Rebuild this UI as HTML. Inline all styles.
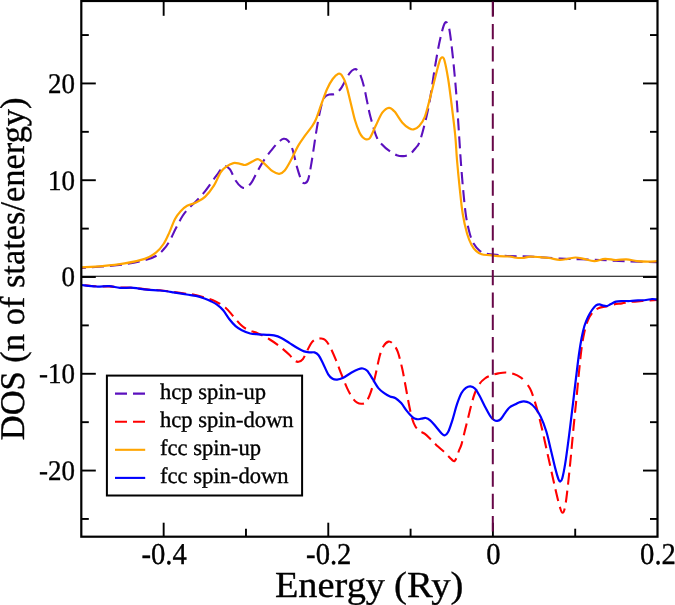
<!DOCTYPE html>
<html><head><meta charset="utf-8"><title>DOS</title>
<style>html,body{margin:0;padding:0;background:#fff;overflow:hidden}svg{display:block;will-change:transform;opacity:.999}text{text-rendering:geometricPrecision}</style></head>
<body>
<svg width="675" height="605" viewBox="0 0 675 605">
<rect width="675" height="605" fill="#fff"/>
<defs><clipPath id="c"><rect x="81.3" y="1.0" width="576.2" height="535.7"/></clipPath></defs>
<g clip-path="url(#c)" fill="none" stroke-linejoin="round">
<path d="M81.50 268.00 C84.97 267.75 95.12 267.12 102.30 266.50 C109.48 265.88 117.53 265.33 124.60 264.30 C131.67 263.27 139.48 261.68 144.70 260.30 C149.92 258.92 152.73 257.83 155.90 256.00 C159.07 254.17 161.47 251.72 163.70 249.30 C165.93 246.88 167.25 245.03 169.30 241.50 C171.35 237.97 173.77 232.38 176.00 228.10 C178.23 223.82 180.47 219.22 182.70 215.80 C184.93 212.38 187.17 210.02 189.40 207.60 C191.63 205.18 193.50 204.02 196.10 201.30 C198.70 198.58 202.03 195.02 205.00 191.30 C207.97 187.58 211.73 181.97 213.90 179.00 C216.07 176.03 216.65 175.33 218.00 173.50 C219.35 171.67 220.75 169.22 222.00 168.00 C223.25 166.78 224.17 165.97 225.50 166.20 C226.83 166.43 228.32 167.02 230.00 169.40 C231.68 171.78 233.73 177.60 235.60 180.50 C237.47 183.40 239.52 185.60 241.20 186.80 C242.88 188.00 244.02 188.37 245.70 187.70 C247.38 187.03 249.22 185.67 251.25 182.80 C253.28 179.93 255.67 174.42 257.90 170.50 C260.12 166.58 262.37 162.65 264.60 159.30 C266.83 155.95 269.07 153.18 271.30 150.40 C273.53 147.62 275.95 144.53 278.00 142.60 C280.05 140.67 281.92 139.10 283.60 138.80 C285.28 138.50 286.62 139.05 288.10 140.80 C289.58 142.55 291.02 144.92 292.50 149.30 C293.98 153.68 295.50 161.90 297.00 167.10 C298.50 172.30 300.20 177.82 301.50 180.50 C302.80 183.18 303.68 183.38 304.80 183.20 C305.92 183.02 307.08 182.82 308.20 179.40 C309.32 175.98 310.38 169.20 311.50 162.70 C312.62 156.20 313.78 147.47 314.90 140.40 C316.02 133.33 317.08 126.27 318.20 120.30 C319.32 114.33 320.48 108.52 321.60 104.60 C322.72 100.68 323.60 98.47 324.90 96.80 C326.20 95.13 327.72 95.08 329.40 94.60 C331.08 94.12 333.15 94.83 335.00 93.90 C336.85 92.97 338.83 91.12 340.50 89.00 C342.17 86.88 343.50 83.80 345.00 81.20 C346.50 78.60 348.02 75.37 349.50 73.40 C350.98 71.43 352.60 69.97 353.90 69.40 C355.20 68.83 356.18 68.97 357.30 70.00 C358.42 71.03 359.48 72.80 360.60 75.60 C361.72 78.40 362.88 82.33 364.00 86.80 C365.12 91.27 366.22 97.37 367.30 102.40 C368.38 107.43 368.93 111.20 370.50 117.00 C372.07 122.80 374.73 132.58 376.70 137.20 C378.67 141.82 380.25 142.45 382.30 144.70 C384.35 146.95 386.58 148.95 389.00 150.70 C391.42 152.45 394.38 154.30 396.80 155.20 C399.22 156.10 401.27 156.33 403.50 156.10 C405.73 155.87 408.15 155.18 410.20 153.80 C412.25 152.42 414.30 149.63 415.80 147.80 C417.30 145.97 417.90 146.05 419.20 142.80 C420.50 139.55 421.93 134.81 423.60 128.30 C425.27 121.79 427.33 113.80 429.20 103.75 C431.07 93.70 433.13 78.04 434.80 68.00 C436.47 57.96 437.72 50.57 439.20 43.50 C440.68 36.43 442.47 29.13 443.70 25.60 C444.93 22.07 445.67 21.73 446.60 22.30 C447.53 22.87 448.30 23.62 449.30 29.00 C450.30 34.38 451.48 44.37 452.60 54.60 C453.72 64.83 455.07 79.23 456.00 90.40 C456.93 101.57 457.60 112.83 458.20 121.60 C458.80 130.37 459.15 136.22 459.60 143.00 C460.05 149.78 460.32 154.62 460.90 162.30 C461.48 169.98 462.25 180.17 463.10 189.10 C463.95 198.03 464.88 208.46 466.00 215.90 C467.12 223.34 468.50 229.10 469.80 233.75 C471.10 238.40 472.20 241.01 473.80 243.80 C475.40 246.59 477.53 248.90 479.40 250.50 C481.27 252.10 482.58 252.73 485.00 253.40 C487.42 254.07 489.73 254.05 493.90 254.50 C498.07 254.95 503.98 255.77 510.00 256.10 C516.02 256.43 521.67 256.10 530.00 256.50 C538.33 256.90 548.33 257.92 560.00 258.50 C571.67 259.08 588.33 259.50 600.00 260.00 C611.67 260.50 620.50 261.13 630.00 261.50 C639.50 261.87 652.50 262.08 657.00 262.20" stroke="#5B10BE" stroke-width="2.1" stroke-dasharray="12 6" stroke-dashoffset="-10.5"/>
<path d="M81.50 285.00 C83.92 285.22 91.37 286.07 96.00 286.30 C100.63 286.53 105.30 286.20 109.30 286.40 C113.30 286.60 116.00 287.27 120.00 287.50 C124.00 287.73 128.85 287.48 133.30 287.80 C137.75 288.12 142.25 288.98 146.70 289.40 C151.15 289.82 155.57 289.87 160.00 290.30 C164.43 290.73 168.85 291.42 173.30 292.00 C177.75 292.58 183.58 293.43 186.70 293.80 C189.82 294.17 188.90 293.55 192.00 294.20 C195.10 294.85 201.30 296.45 205.30 297.70 C209.30 298.95 212.67 300.07 216.00 301.70 C219.33 303.33 222.42 305.07 225.30 307.50 C228.18 309.93 230.68 313.38 233.30 316.30 C235.92 319.22 238.63 322.78 241.00 325.00 C243.37 327.22 244.68 328.20 247.50 329.60 C250.32 331.00 254.32 331.83 257.90 333.40 C261.48 334.97 265.28 336.77 269.00 339.00 C272.72 341.23 276.85 344.20 280.20 346.80 C283.55 349.40 286.77 352.37 289.10 354.60 C291.43 356.83 292.63 359.00 294.20 360.20 C295.77 361.40 297.05 361.98 298.50 361.80 C299.95 361.62 301.42 361.03 302.90 359.10 C304.38 357.17 305.92 352.98 307.40 350.20 C308.88 347.42 310.33 344.27 311.80 342.40 C313.27 340.53 314.72 339.65 316.20 339.00 C317.68 338.35 319.20 338.33 320.70 338.50 C322.20 338.67 323.65 338.62 325.20 340.00 C326.75 341.38 328.20 343.43 330.00 346.80 C331.80 350.17 334.07 355.55 336.00 360.20 C337.93 364.85 339.75 370.05 341.60 374.70 C343.45 379.35 345.25 384.18 347.10 388.10 C348.95 392.02 351.02 395.78 352.70 398.20 C354.38 400.62 355.70 401.68 357.20 402.60 C358.70 403.53 360.22 403.85 361.70 403.75 C363.18 403.65 364.62 403.86 366.10 402.00 C367.58 400.14 369.12 396.77 370.60 392.60 C372.08 388.43 373.48 383.10 375.00 377.00 C376.52 370.90 378.27 361.17 379.70 356.00 C381.13 350.83 382.13 348.40 383.60 346.00 C385.07 343.60 386.93 341.93 388.50 341.60 C390.07 341.27 391.47 342.32 393.00 344.00 C394.53 345.68 396.17 347.62 397.70 351.70 C399.23 355.78 400.88 362.73 402.20 368.50 C403.52 374.27 404.48 380.35 405.60 386.30 C406.72 392.25 407.80 398.80 408.90 404.20 C410.00 409.60 411.12 414.98 412.20 418.70 C413.28 422.42 414.17 424.45 415.40 426.50 C416.63 428.55 418.07 429.80 419.60 431.00 C421.13 432.20 422.65 432.22 424.60 433.70 C426.55 435.18 429.07 437.75 431.30 439.90 C433.53 442.05 435.77 444.52 438.00 446.60 C440.23 448.68 442.65 450.47 444.70 452.40 C446.75 454.33 448.95 456.83 450.30 458.20 C451.65 459.57 452.13 460.10 452.80 460.60 C453.47 461.10 453.82 461.37 454.30 461.20 C454.78 461.03 455.22 460.50 455.70 459.60 C456.18 458.70 456.65 457.32 457.20 455.80 C457.75 454.28 458.28 452.40 459.00 450.50 C459.72 448.60 460.53 447.65 461.50 444.40 C462.47 441.15 463.68 435.47 464.80 431.00 C465.92 426.53 467.08 422.07 468.20 417.60 C469.32 413.13 470.38 408.30 471.50 404.20 C472.62 400.10 473.60 396.35 474.90 393.00 C476.20 389.65 477.63 386.52 479.30 384.10 C480.97 381.68 482.85 379.98 484.90 378.50 C486.95 377.02 489.37 376.05 491.60 375.20 C493.83 374.35 495.88 373.85 498.30 373.40 C500.72 372.95 503.50 372.38 506.10 372.50 C508.70 372.62 511.48 373.28 513.90 374.10 C516.32 374.92 518.92 376.32 520.60 377.40 C522.28 378.48 523.07 379.67 524.00 380.60" stroke="#FF0000" stroke-width="2.1" stroke-dasharray="12 6" stroke-dashoffset="-3"/>
<path d="M524.00 380.60 C524.93 381.53 525.20 381.67 526.20 383.00 C527.20 384.33 528.88 386.50 530.00 388.60 C531.12 390.70 531.68 392.02 532.90 395.60 C534.12 399.18 535.82 404.72 537.30 410.10 C538.78 415.48 540.31 421.58 541.80 427.90 C543.29 434.22 544.77 441.30 546.25 448.00 C547.73 454.70 549.21 461.40 550.70 468.10 C552.19 474.80 553.72 481.87 555.20 488.20 C556.68 494.53 558.38 502.00 559.60 506.10 C560.82 510.20 561.57 512.80 562.50 512.80 C563.43 512.80 564.27 510.94 565.20 506.10 C566.13 501.26 567.17 491.93 568.10 483.75 C569.03 475.57 569.90 466.31 570.80 457.00 C571.70 447.69 572.57 437.58 573.50 427.90 C574.43 418.22 575.48 408.22 576.40 398.90 C577.32 389.58 578.13 380.48 579.00 372.00 C579.87 363.52 580.70 354.67 581.60 348.00 C582.50 341.33 583.33 336.67 584.40 332.00 C585.47 327.33 586.57 323.33 588.00 320.00 C589.43 316.67 591.17 314.00 593.00 312.00 C594.83 310.00 596.83 308.93 599.00 308.00 C601.17 307.07 603.50 307.00 606.00 306.40 C608.50 305.80 611.33 304.90 614.00 304.40 C616.67 303.90 619.33 303.80 622.00 303.40 C624.67 303.00 626.67 302.40 630.00 302.00 C633.33 301.60 637.50 301.33 642.00 301.00 C646.50 300.67 654.50 300.17 657.00 300.00" stroke="#FF0000" stroke-width="2.1" stroke-dasharray="12 6" stroke-dashoffset="12"/>
<path d="M81.50 267.30 C84.97 267.10 95.12 266.75 102.30 266.10 C109.48 265.45 117.53 264.60 124.60 263.40 C131.67 262.20 139.48 260.68 144.70 258.90 C149.92 257.12 152.73 255.22 155.90 252.70 C159.07 250.17 161.47 247.10 163.70 243.75 C165.93 240.40 167.43 236.69 169.30 232.60 C171.17 228.51 173.05 222.73 174.90 219.20 C176.75 215.67 178.37 213.63 180.40 211.40 C182.43 209.17 184.48 207.28 187.10 205.80 C189.72 204.32 193.12 203.98 196.10 202.50 C199.08 201.02 202.03 199.70 205.00 196.90 C207.97 194.10 211.30 189.80 213.90 185.70 C216.50 181.60 218.65 175.40 220.60 172.30 C222.55 169.20 223.47 168.63 225.60 167.10 C227.73 165.57 230.98 163.65 233.40 163.10 C235.82 162.55 238.05 163.50 240.10 163.80 C242.15 164.10 243.47 165.38 245.70 164.90 C247.93 164.42 251.38 161.83 253.50 160.90 C255.62 159.97 256.55 158.82 258.40 159.30 C260.25 159.78 262.25 161.82 264.60 163.80 C266.95 165.78 270.07 169.53 272.50 171.20 C274.93 172.87 277.17 173.92 279.20 173.80 C281.23 173.68 282.67 172.92 284.70 170.50 C286.73 168.08 289.17 163.40 291.40 159.30 C293.63 155.20 295.87 149.80 298.10 145.90 C300.33 142.00 302.57 139.05 304.80 135.90 C307.03 132.75 309.63 129.78 311.50 127.00 C313.37 124.22 314.32 123.12 316.00 119.20 C317.68 115.28 319.75 108.53 321.60 103.50 C323.45 98.47 325.25 93.08 327.10 89.00 C328.95 84.92 330.83 81.53 332.70 79.00 C334.57 76.47 336.80 74.43 338.30 73.80 C339.80 73.17 340.40 73.40 341.70 75.20 C343.00 77.00 344.62 80.07 346.10 84.60 C347.58 89.13 349.12 96.45 350.60 102.40 C352.08 108.35 353.52 115.28 355.00 120.30 C356.48 125.32 358.17 129.62 359.50 132.50 C360.83 135.38 361.92 136.45 363.00 137.60 C364.08 138.75 364.83 139.37 366.00 139.40 C367.17 139.43 368.40 140.02 370.00 137.80 C371.60 135.58 373.55 130.28 375.60 126.10 C377.65 121.92 380.07 115.75 382.30 112.70 C384.53 109.65 386.95 107.98 389.00 107.80 C391.05 107.62 392.37 109.12 394.60 111.60 C396.83 114.08 399.98 119.92 402.40 122.70 C404.82 125.48 407.23 127.18 409.10 128.30 C410.97 129.42 411.92 129.77 413.60 129.40 C415.28 129.03 417.35 128.15 419.20 126.10 C421.05 124.05 422.85 121.95 424.70 117.10 C426.55 112.25 428.43 104.07 430.30 97.00 C432.17 89.93 434.30 80.83 435.90 74.70 C437.50 68.57 438.87 63.10 439.90 60.20 C440.93 57.30 441.35 57.30 442.10 57.30 C442.85 57.30 443.38 56.55 444.40 60.20 C445.42 63.85 447.02 71.94 448.20 79.20 C449.38 86.46 450.33 94.45 451.50 103.75 C452.67 113.05 454.28 125.62 455.20 135.00 C456.12 144.38 456.23 150.98 457.00 160.00 C457.77 169.02 458.85 180.15 459.80 189.10 C460.75 198.05 461.48 206.26 462.70 213.70 C463.92 221.14 465.62 228.55 467.10 233.75 C468.58 238.95 470.10 242.04 471.60 244.90 C473.10 247.76 474.42 249.33 476.10 250.90 C477.78 252.47 479.47 253.58 481.70 254.30 C483.93 255.02 486.72 254.90 489.50 255.20 C492.28 255.50 494.98 255.88 498.40 256.10 C501.82 256.32 507.35 256.27 510.00 256.50 C512.65 256.73 512.25 257.25 514.30 257.50 C516.35 257.75 519.63 258.13 522.30 258.00 C524.97 257.87 527.35 256.83 530.30 256.70 C533.25 256.57 536.88 256.98 540.00 257.20 C543.12 257.42 545.72 257.55 549.00 258.00 C552.28 258.45 556.58 259.77 559.70 259.90 C562.82 260.03 565.03 259.20 567.70 258.80 C570.37 258.40 573.03 257.50 575.70 257.50 C578.37 257.50 580.60 258.18 583.70 258.80 C586.80 259.42 590.75 261.20 594.30 261.20 C597.85 261.20 601.43 258.98 605.00 258.80 C608.57 258.62 612.15 260.02 615.70 260.10 C619.25 260.18 622.75 259.12 626.30 259.30 C629.85 259.48 633.43 260.80 637.00 261.20 C640.57 261.60 644.37 261.70 647.70 261.70 C651.03 261.70 655.45 261.28 657.00 261.20" stroke="#FFA500" stroke-width="2.2"/>
<path d="M81.50 285.00 C83.92 285.25 91.37 286.30 96.00 286.50 C100.63 286.70 105.30 285.98 109.30 286.20 C113.30 286.42 116.00 287.53 120.00 287.80 C124.00 288.07 128.85 287.48 133.30 287.80 C137.75 288.12 142.25 289.25 146.70 289.70 C151.15 290.15 155.57 290.07 160.00 290.50 C164.43 290.93 168.85 291.63 173.30 292.30 C177.75 292.97 182.92 293.90 186.70 294.50 C190.48 295.10 193.03 295.23 196.00 295.90 C198.97 296.57 202.00 297.60 204.50 298.50 C207.00 299.40 208.92 300.27 211.00 301.30 C213.08 302.33 214.97 303.20 217.00 304.70 C219.03 306.20 221.13 307.88 223.20 310.30 C225.27 312.72 227.33 316.57 229.40 319.20 C231.47 321.83 233.52 324.27 235.60 326.10 C237.68 327.93 239.47 328.97 241.90 330.20 C244.33 331.43 247.43 332.82 250.20 333.50 C252.97 334.18 255.73 334.08 258.50 334.30 C261.27 334.52 264.22 334.62 266.80 334.80 C269.38 334.98 271.58 334.88 274.00 335.40 C276.42 335.92 278.70 336.62 281.30 337.90 C283.90 339.18 286.83 341.37 289.60 343.10 C292.37 344.83 295.48 346.92 297.90 348.30 C300.32 349.68 302.20 350.72 304.10 351.40 C306.00 352.08 307.57 352.23 309.30 352.40 C311.03 352.57 312.95 351.93 314.50 352.40 C316.05 352.87 317.22 353.43 318.60 355.20 C319.98 356.97 321.20 359.82 322.80 363.00 C324.40 366.18 326.57 371.68 328.20 374.30 C329.83 376.93 331.12 377.87 332.60 378.75 C334.08 379.63 335.42 379.71 337.10 379.60 C338.78 379.49 340.28 379.28 342.70 378.10 C345.12 376.92 349.00 373.98 351.60 372.50 C354.20 371.02 356.43 369.87 358.30 369.20 C360.17 368.53 361.32 368.25 362.80 368.50 C364.28 368.75 365.53 368.92 367.20 370.70 C368.87 372.48 370.93 376.30 372.80 379.20 C374.67 382.10 376.50 385.78 378.40 388.10 C380.30 390.42 382.27 391.70 384.20 393.10 C386.13 394.50 388.10 395.65 390.00 396.50 C391.90 397.35 393.73 397.10 395.60 398.20 C397.47 399.30 399.33 400.98 401.20 403.10 C403.07 405.22 404.93 408.57 406.80 410.90 C408.67 413.23 410.73 415.72 412.40 417.10 C414.07 418.48 415.32 418.93 416.80 419.20 C418.28 419.47 419.80 418.90 421.30 418.70 C422.80 418.50 424.32 417.73 425.80 418.00 C427.28 418.27 428.53 418.88 430.20 420.30 C431.87 421.72 433.93 424.35 435.80 426.50 C437.67 428.65 439.92 431.72 441.40 433.20 C442.88 434.68 443.58 435.58 444.70 435.40 C445.82 435.22 446.80 434.70 448.10 432.10 C449.40 429.50 451.02 424.45 452.50 419.80 C453.98 415.15 455.50 408.67 457.00 404.20 C458.50 399.73 460.02 395.72 461.50 393.00 C462.98 390.28 464.42 389.02 465.90 387.90 C467.38 386.78 468.90 386.18 470.40 386.30 C471.90 386.42 473.42 387.10 474.90 388.60 C476.38 390.10 477.63 392.33 479.30 395.30 C480.97 398.27 483.03 402.87 484.90 406.40 C486.77 409.93 489.02 414.27 490.50 416.50 C491.98 418.73 492.68 419.07 493.80 419.80 C494.92 420.53 496.08 420.97 497.20 420.90 C498.32 420.83 499.20 420.70 500.50 419.40 C501.80 418.10 503.50 415.08 505.00 413.10 C506.50 411.12 507.75 408.97 509.50 407.50 C511.25 406.03 513.83 405.17 515.50 404.30 C517.17 403.43 518.10 402.80 519.50 402.30 C520.90 401.80 522.23 401.20 523.90 401.30 C525.57 401.40 527.63 401.80 529.50 402.90 C531.37 404.00 533.23 405.58 535.10 407.90 C536.97 410.22 538.84 412.90 540.70 416.80 C542.56 420.70 544.58 425.90 546.25 431.30 C547.92 436.70 549.21 443.07 550.70 449.20 C552.19 455.33 553.90 463.08 555.20 468.10 C556.50 473.12 557.65 477.07 558.50 479.30 C559.35 481.53 559.67 481.68 560.30 481.50 C560.93 481.32 561.48 481.17 562.30 478.20 C563.12 475.23 564.15 470.22 565.20 463.70 C566.25 457.18 567.48 447.67 568.60 439.10 C569.72 430.53 571.10 418.82 571.90 412.30 C572.70 405.78 572.72 405.72 573.40 400.00 C574.08 394.28 575.07 385.67 576.00 378.00 C576.93 370.33 578.07 360.67 579.00 354.00 C579.93 347.33 580.70 342.67 581.60 338.00 C582.50 333.33 583.33 329.50 584.40 326.00 C585.47 322.50 586.73 319.67 588.00 317.00 C589.27 314.33 590.67 311.93 592.00 310.00 C593.33 308.07 594.73 306.33 596.00 305.40 C597.27 304.47 598.43 304.37 599.60 304.40 C600.77 304.43 601.77 305.33 603.00 305.60 C604.23 305.87 605.67 306.27 607.00 306.00 C608.33 305.73 609.50 304.73 611.00 304.00 C612.50 303.27 614.17 302.10 616.00 301.60 C617.83 301.10 619.67 301.10 622.00 301.00 C624.33 300.90 627.33 301.10 630.00 301.00 C632.67 300.90 635.33 300.57 638.00 300.40 C640.67 300.23 643.67 300.23 646.00 300.00 C648.33 299.77 650.17 299.10 652.00 299.00 C653.83 298.90 656.17 299.33 657.00 299.40" stroke="#0000FF" stroke-width="2.2"/>
<line x1="81.3" y1="276.25" x2="657.5" y2="276.25" stroke="#000" stroke-width="1.2"/>
</g>
<g stroke="#000" stroke-width="1.9">
<line x1="163.66" y1="536.7" x2="163.66" y2="522.7"/>
<line x1="163.66" y1="1.0" x2="163.66" y2="15.8"/>
<line x1="245.97" y1="536.7" x2="245.97" y2="528.7"/>
<line x1="245.97" y1="1.0" x2="245.97" y2="9.8"/>
<line x1="328.28" y1="536.7" x2="328.28" y2="522.7"/>
<line x1="328.28" y1="1.0" x2="328.28" y2="15.8"/>
<line x1="410.59" y1="536.7" x2="410.59" y2="528.7"/>
<line x1="410.59" y1="1.0" x2="410.59" y2="9.8"/>
<line x1="492.90" y1="536.7" x2="492.90" y2="522.7"/>
<line x1="492.90" y1="1.0" x2="492.90" y2="15.8"/>
<line x1="575.21" y1="536.7" x2="575.21" y2="528.7"/>
<line x1="575.21" y1="1.0" x2="575.21" y2="9.8"/>
<line x1="81.3" y1="518.95" x2="88.8" y2="518.95"/>
<line x1="657.5" y1="518.95" x2="650.0" y2="518.95"/>
<line x1="81.3" y1="470.56" x2="95.8" y2="470.56"/>
<line x1="657.5" y1="470.56" x2="643.0" y2="470.56"/>
<line x1="81.3" y1="422.17" x2="88.8" y2="422.17"/>
<line x1="657.5" y1="422.17" x2="650.0" y2="422.17"/>
<line x1="81.3" y1="373.78" x2="95.8" y2="373.78"/>
<line x1="657.5" y1="373.78" x2="643.0" y2="373.78"/>
<line x1="81.3" y1="325.39" x2="88.8" y2="325.39"/>
<line x1="657.5" y1="325.39" x2="650.0" y2="325.39"/>
<line x1="81.3" y1="277.00" x2="95.8" y2="277.00"/>
<line x1="657.5" y1="277.00" x2="643.0" y2="277.00"/>
<line x1="81.3" y1="228.61" x2="88.8" y2="228.61"/>
<line x1="657.5" y1="228.61" x2="650.0" y2="228.61"/>
<line x1="81.3" y1="180.22" x2="95.8" y2="180.22"/>
<line x1="657.5" y1="180.22" x2="643.0" y2="180.22"/>
<line x1="81.3" y1="131.83" x2="88.8" y2="131.83"/>
<line x1="657.5" y1="131.83" x2="650.0" y2="131.83"/>
<line x1="81.3" y1="83.44" x2="95.8" y2="83.44"/>
<line x1="657.5" y1="83.44" x2="643.0" y2="83.44"/>
<line x1="81.3" y1="35.05" x2="88.8" y2="35.05"/>
<line x1="657.5" y1="35.05" x2="650.0" y2="35.05"/>
</g>
<rect x="81.3" y="1.0" width="576.2" height="535.7" fill="none" stroke="#000" stroke-width="2.2"/>
<line x1="492.8" y1="-20.8" x2="492.8" y2="535.5" stroke="#670748" stroke-width="2" stroke-dasharray="15.3 7.07"/>
<text transform="translate(164.16 564.10) scale(0.9450 1.0000)" text-anchor="middle" font-family="'Liberation Serif', serif" font-size="30.30" fill="#000" stroke="#000" stroke-width="0.35">-0.4</text>
<text transform="translate(328.78 564.10) scale(0.9450 1.0000)" text-anchor="middle" font-family="'Liberation Serif', serif" font-size="30.30" fill="#000" stroke="#000" stroke-width="0.35">-0.2</text>
<text transform="translate(493.40 564.10) scale(0.9450 1.0000)" text-anchor="middle" font-family="'Liberation Serif', serif" font-size="30.30" fill="#000" stroke="#000" stroke-width="0.35">0</text>
<text transform="translate(658.02 564.10) scale(0.9450 1.0000)" text-anchor="middle" font-family="'Liberation Serif', serif" font-size="30.30" fill="#000" stroke="#000" stroke-width="0.35">0.2</text>
<text transform="translate(74.90 92.84) scale(0.9500 1.0000)" text-anchor="end" font-family="'Liberation Serif', serif" font-size="28.40" fill="#000" stroke="#000" stroke-width="0.35">20</text>
<text transform="translate(74.90 189.62) scale(0.9500 1.0000)" text-anchor="end" font-family="'Liberation Serif', serif" font-size="28.40" fill="#000" stroke="#000" stroke-width="0.35">10</text>
<text transform="translate(74.90 286.40) scale(0.9500 1.0000)" text-anchor="end" font-family="'Liberation Serif', serif" font-size="28.40" fill="#000" stroke="#000" stroke-width="0.35">0</text>
<text transform="translate(74.90 383.18) scale(0.9500 1.0000)" text-anchor="end" font-family="'Liberation Serif', serif" font-size="28.40" fill="#000" stroke="#000" stroke-width="0.35">-10</text>
<text transform="translate(74.90 479.96) scale(0.9500 1.0000)" text-anchor="end" font-family="'Liberation Serif', serif" font-size="28.40" fill="#000" stroke="#000" stroke-width="0.35">-20</text>
<text transform="translate(274.95 597.20) scale(1.0450 1.0000)" text-anchor="start" font-family="'Liberation Serif', serif" font-size="36.70" fill="#000" stroke="#000" stroke-width="0.35">Energy</text>
<text transform="translate(394.10 597.20) scale(1.0550 1.0000)" text-anchor="start" font-family="'Liberation Serif', serif" font-size="36.70" fill="#000" stroke="#000" stroke-width="0.35">(Ry)</text>
<text transform="translate(23.80 268.80) rotate(-90) scale(0.9960 1.0000)" text-anchor="middle" font-family="'Liberation Serif', serif" font-size="34.60" fill="#000" stroke="#000" stroke-width="0.35">DOS (n of states/energy)</text>
<rect x="106.9" y="375.6" width="195.2" height="119.9" fill="#fff" stroke="#000" stroke-width="2"/>
<line x1="115" y1="393.6" x2="145.2" y2="393.6" stroke="#5B10BE" stroke-width="2.1" stroke-dasharray="12 6"/>
<text transform="translate(160.00 398.80) scale(1.0130 1.0000)" text-anchor="start" font-family="'Liberation Serif', serif" font-size="22.30" fill="#000" stroke="#000" stroke-width="0.35">hcp spin-up</text>
<line x1="115" y1="421.7" x2="145.2" y2="421.7" stroke="#FF0000" stroke-width="2.1" stroke-dasharray="12 6"/>
<text transform="translate(160.00 426.90) scale(1.0130 1.0000)" text-anchor="start" font-family="'Liberation Serif', serif" font-size="22.30" fill="#000" stroke="#000" stroke-width="0.35">hcp spin-down</text>
<line x1="115" y1="449.8" x2="145.2" y2="449.8" stroke="#FFA500" stroke-width="2.1"/>
<text transform="translate(160.00 455.00) scale(1.0130 1.0000)" text-anchor="start" font-family="'Liberation Serif', serif" font-size="22.30" fill="#000" stroke="#000" stroke-width="0.35">fcc spin-up</text>
<line x1="115" y1="477.9" x2="145.2" y2="477.9" stroke="#0000FF" stroke-width="2.1"/>
<text transform="translate(160.00 483.10) scale(1.0130 1.0000)" text-anchor="start" font-family="'Liberation Serif', serif" font-size="22.30" fill="#000" stroke="#000" stroke-width="0.35">fcc spin-down</text>
</svg>
</body></html>
